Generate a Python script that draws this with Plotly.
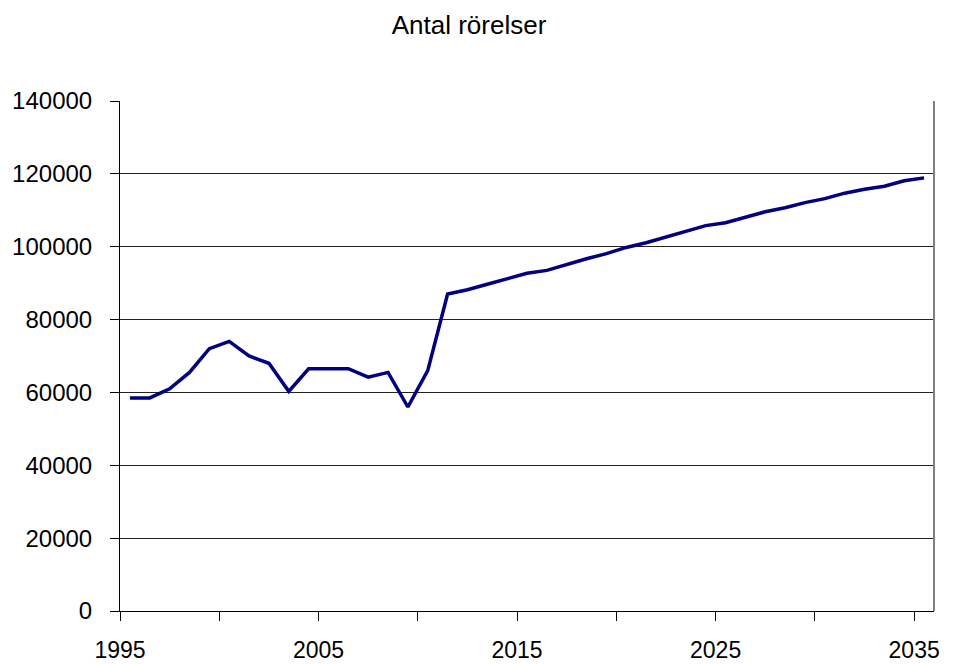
import plotly.graph_objects as go

years = list(range(1995, 2036))
movements = [
    58500, 58500, 61000, 65500, 72000, 74000, 70000, 68000, 60300, 66500,
    66500, 66500, 64200, 65500, 56000, 66000, 87000, 88200, 89700, 91100,
    92700, 93500, 95200, 96700, 98100, 99800, 101100, 102600, 104100, 105800,
    106600, 108100, 109600, 110700, 112100, 113200, 114700, 115800, 116600, 118100,
    118900,
]
tick_years = [1995, 2000, 2005, 2010, 2015, 2020, 2025, 2030, 2035]
tick_labels = ["1995", "", "2005", "", "2015", "", "2025", "", "2035"]
y_ticks = [0, 20000, 40000, 60000, 80000, 100000, 120000, 140000]

FONT = "Liberation Sans, Arial, sans-serif"

fig = go.Figure()
fig.add_trace(go.Scatter(
    x=years, y=movements, mode="lines",
    line=dict(color="#000080", width=3.5),
    hoverinfo="x+y", showlegend=False,
))

fig.update_layout(
    width=958, height=664,
    margin=dict(l=120, r=24, t=101, b=53),
    paper_bgcolor="white", plot_bgcolor="white",
    font=dict(family=FONT, size=24, color="black"),
    title=dict(text="Antal rörelser", x=0.4896, xanchor="center",
               y=1 - 25 / 664, yanchor="middle",
               font=dict(family=FONT, size=26, color="black")),
    xaxis=dict(
        range=[1994.5, 2035.5],
        tickmode="array",
        tickvals=[y - 0.5 for y in tick_years],
        ticktext=tick_labels,
        tickfont=dict(size=23),
        ticks="outside", ticklen=9, tickcolor="black", tickwidth=1,
        showline=True, linecolor="black", linewidth=1,
        showgrid=False, zeroline=False,
        ticklabelstandoff=9,
        automargin=False,
    ),
    yaxis=dict(
        range=[0, 140000],
        tickmode="array", tickvals=y_ticks,
        ticktext=[str(v) for v in y_ticks],
        ticks="outside", ticklen=9, tickcolor="black", tickwidth=1,
        showline=True, linecolor="black", linewidth=1,
        showgrid=True, gridcolor="#222222", gridwidth=1,
        zeroline=False,
        ticklabelstandoff=13,
        automargin=False,
    ),
    shapes=[dict(type="line", xref="paper", yref="paper",
                 x0=1, x1=1, y0=0, y1=1,
                 line=dict(color="#808080", width=2))],
)

fig.write_html(
    "out.html",
    config={"displayModeBar": False},
    post_script="document.body.style.margin='0';document.body.style.padding='0';",
)
